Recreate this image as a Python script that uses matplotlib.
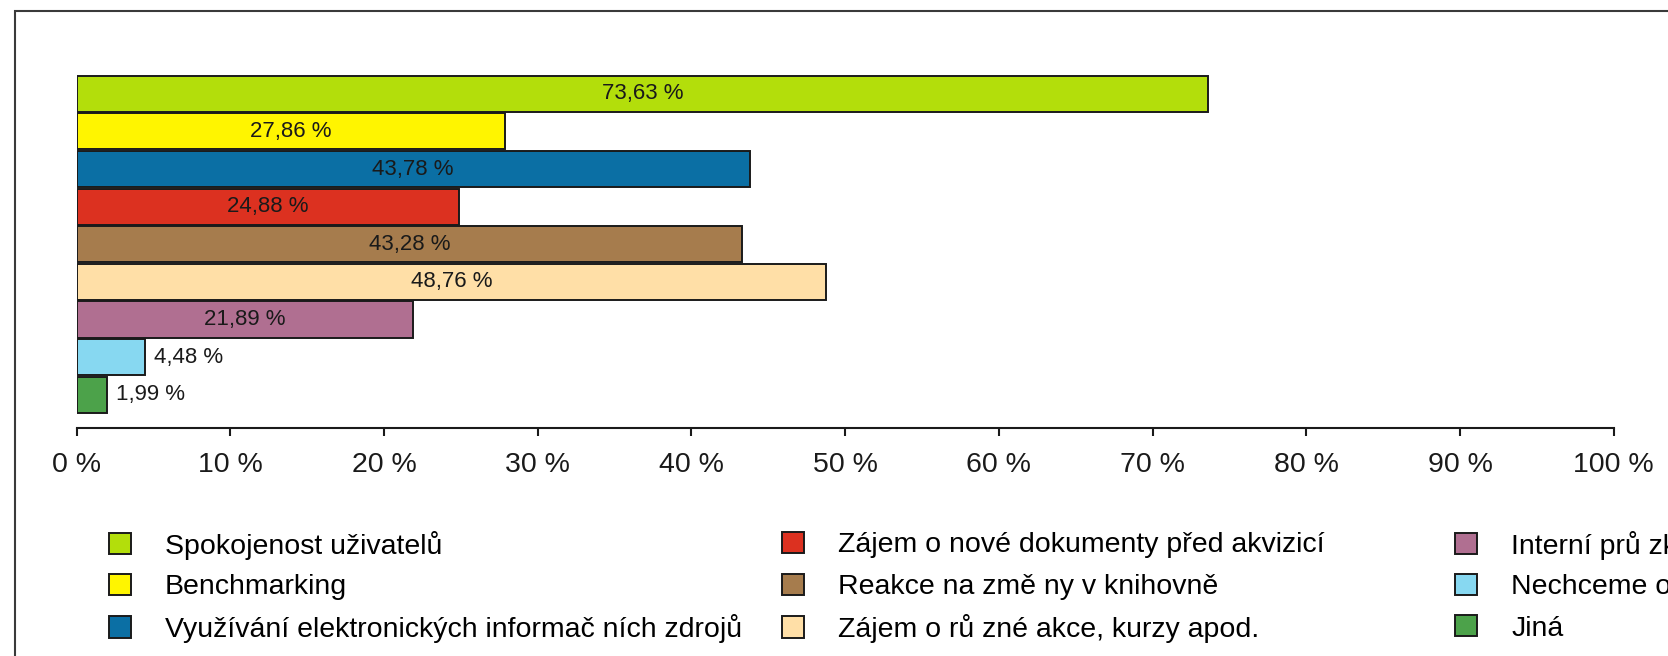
import matplotlib
matplotlib.use("Agg")
import matplotlib.pyplot as plt
from matplotlib.patches import Rectangle

plt.rcParams['font.family'] = ['Liberation Sans', 'DejaVu Sans']

# data
categories = [
    "Spokojenost uživatelů",
    "Benchmarking",
    "Využívání elektronických informač ních zdrojů",
    "Zájem o nové dokumenty před akvizicí",
    "Reakce na změ ny v knihovně",
    "Zájem o rů zné akce, kurzy apod.",
    "Interní prů zkumy",
    "Nechceme odpovídat",
    "Jiná",
]
values = [73.63, 27.86, 43.78, 24.88, 43.28, 48.76, 21.89, 4.48, 1.99]
colors = ["#B3DE0B", "#FFF500", "#0B6FA4", "#DC3120", "#A67C4D",
          "#FFDFA7", "#B06F91", "#87D8F1", "#4CA24A"]
ticks = [0, 10, 20, 30, 40, 50, 60, 70, 80, 90, 100]
tick_labels = [f"{t} %" for t in ticks]

W, H = 1668, 656
fig = plt.figure(figsize=(W / 100, H / 100), dpi=100)

# axes placed in pixel terms
x0, x1 = 76.6, 1613.8
ytop, ybot = 56.2, 427.5
ax = fig.add_axes([x0 / W, 1 - ybot / H, (x1 - x0) / W, (ybot - ytop) / H])

pos = list(range(len(values)))
bars = ax.barh(pos, values, height=0.96, color=colors,
               edgecolor="#1a1a1a", linewidth=1.4)

for p, v in zip(pos, values):
    txt = f"{v:.2f}".replace(".", ",") + " %"
    if v < 10:
        ax.annotate(txt, (v, p), xytext=(6.5, 0), textcoords="offset points",
                    ha="left", va="center", fontsize=16, color="#1a1a1a")
    else:
        ax.text(v / 2, p, txt, ha="center", va="center",
                fontsize=16, color="#1a1a1a")

ax.set_xlim(0, 100)
ax.set_ylim(len(values) - 1 + 0.872, -1)
ax.set_xticks(ticks)
ax.set_xticklabels(tick_labels, fontsize=20.5, color="#1a1a1a")
ax.set_yticks([])
for s in ["top", "right", "left"]:
    ax.spines[s].set_visible(False)
ax.spines["bottom"].set_linewidth(1.5)
ax.spines["bottom"].set_color("#1a1a1a")
ax.tick_params(axis="x", direction="out", length=5.5, width=1.5,
               color="#1a1a1a", pad=12)

# legend: 3 columns x 3 rows, one entry per legend so rows line up
col_x = [109.0, 782.0, 1455.0]
row_y = [545.0, 586.8, 628.5]
for i, lab in enumerate(categories):
    c, r = divmod(i, 3)
    fig.legend([bars[i]], [lab],
               loc="center left", bbox_to_anchor=(col_x[c] / W, 1 - row_y[r] / H),
               frameon=False, fontsize=20.5, borderpad=0, borderaxespad=0,
               handlelength=0.77, handleheight=0.77, handletextpad=1.2)

# outer frame (only top and left visible in the picture)
fig.patches.append(Rectangle((15 / W, -0.2), 1.5, 1.2 - 11 / H,
                             transform=fig.transFigure, fill=False,
                             edgecolor="#3a3a3a", linewidth=1.5))

fig.savefig("out.png", dpi=100)
